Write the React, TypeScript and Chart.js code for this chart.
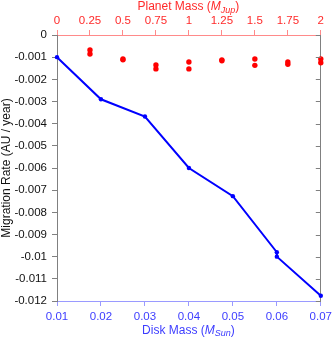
import React, { useEffect, useRef } from "react";
import { Chart, registerables } from "chart.js";

Chart.register(...registerables);

// ---- data ----
const diskMass = [0.01, 0.02, 0.03, 0.04, 0.05, 0.06, 0.06, 0.07];
const diskMigrationRate = [-0.001, -0.0029, -0.00368, -0.006, -0.00727, -0.0098, -0.01, -0.01176];

const planetMass = [0.25, 0.25, 0.5, 0.5, 0.75, 0.75, 1, 1, 1.25, 1.25, 1.5, 1.5, 1.75, 1.75, 2, 2];
const planetMigrationRate = [
  -0.00068, -0.00086, -0.00108, -0.00112, -0.00135, -0.00153, -0.00122, -0.00153,
  -0.00112, -0.00116, -0.00108, -0.00137, -0.00122, -0.00132, -0.00108, -0.00125,
];

const diskMassTicks = [0.01, 0.02, 0.03, 0.04, 0.05, 0.06, 0.07];
const planetMassTicks = [0, 0.25, 0.5, 0.75, 1, 1.25, 1.5, 1.75, 2];
const rateTicks = [0, -0.001, -0.002, -0.003, -0.004, -0.005, -0.006, -0.007, -0.008, -0.009, -0.01, -0.011, -0.012];

const FONT = "'Liberation Sans', Arial, Helvetica, sans-serif";

type Seg = { text: string; italic?: boolean; sub?: boolean };

function drawRich(ctx: CanvasRenderingContext2D, segs: Seg[], cx: number, cy: number, color: string, rotate: boolean) {
  const size = 12;
  const subSize = 9;
  const fontFor = (s: Seg) => `${s.italic ? "italic " : ""}${s.sub ? subSize : size}px ${FONT}`;
  let total = 0;
  const widths = segs.map((s) => {
    ctx.font = fontFor(s);
    const w = ctx.measureText(s.text).width;
    total += w;
    return w;
  });
  ctx.save();
  ctx.translate(cx, cy);
  if (rotate) ctx.rotate(-Math.PI / 2);
  ctx.fillStyle = color;
  ctx.textBaseline = "middle";
  ctx.textAlign = "left";
  let x = -total / 2;
  segs.forEach((s, i) => {
    ctx.font = fontFor(s);
    ctx.fillText(s.text, x, s.sub ? 3 : 0);
    x += widths[i];
  });
  ctx.restore();
}

const titlesPlugin = {
  id: "richTitles",
  afterDraw(chart: any) {
    const ctx = chart.ctx as CanvasRenderingContext2D;
    const a = chart.chartArea;
    const cx = (a.left + a.right) / 2;
    drawRich(ctx, [{ text: "Disk Mass (" }, { text: "M", italic: true }, { text: "Sun", italic: true, sub: true }, { text: ")" }], cx - 0.5, 330.5, "#3d3dff", false);
    drawRich(ctx, [{ text: "Planet Mass (" }, { text: "M", italic: true }, { text: "Jup", italic: true, sub: true }, { text: ")" }], cx - 0.5, 7, "#ff2a2a", false);
    drawRich(ctx, [{ text: "Migration Rate (AU / year)" }], 7, (a.top + a.bottom) / 2, "#111", true);

    // inward ticks on right axis
    const y = chart.scales.y;
    ctx.save();
    ctx.strokeStyle = "#808080";
    ctx.lineWidth = 1;
    rateTicks.forEach((v) => {
      const py = Math.round(y.getPixelForValue(v)) + 0.5;
      ctx.beginPath();
      ctx.moveTo(a.right - 5, py);
      ctx.lineTo(a.right, py);
      ctx.stroke();
    });
    ctx.restore();
  },
};

export default function App() {
  const ref = useRef<HTMLCanvasElement | null>(null);
  useEffect(() => {
    document.body.style.margin = "0";
    const canvas = ref.current!;
    const chart = new Chart(canvas, {
      type: "scatter",
      data: {
        datasets: [
          {
            label: "disk",
            data: diskMass.map((x, i) => ({ x, y: diskMigrationRate[i] })),
            xAxisID: "x",
            yAxisID: "y",
            showLine: true,
            borderColor: "#0000ff",
            backgroundColor: "#0000ff",
            borderWidth: 2,
            pointRadius: 2.2,
            pointBorderWidth: 0,
            clip: false as any,
          },
          {
            label: "planet",
            data: planetMass.map((x, i) => ({ x, y: planetMigrationRate[i] })),
            xAxisID: "x2",
            yAxisID: "y",
            showLine: false,
            borderColor: "#ff0000",
            backgroundColor: "#ff0000",
            pointRadius: 2.7,
            pointBorderWidth: 0,
            clip: false as any,
          },
        ],
      },
      options: {
        responsive: false,
        animation: false,
        layout: { padding: 0 },
        plugins: { legend: { display: false }, tooltip: { enabled: false }, title: { display: false } },
        scales: {
          x: {
            type: "linear",
            position: "bottom",
            min: 0.01,
            max: 0.07,
            afterBuildTicks: (s: any) => { s.ticks = diskMassTicks.map((value) => ({ value })); },
            afterFit: (s: any) => { s.height = 38; },
            ticks: {
              color: "#3d3dff",
              font: { family: FONT, size: 11.5 },
              padding: 4,
              maxRotation: 0,
              autoSkip: false,
              callback: (v: any) => Number(v).toFixed(2),
            },
            grid: { drawOnChartArea: false, tickLength: 5, color: "#9a9aff" },
            border: { color: "#9a9aff", width: 1 },
          },
          x2: {
            type: "linear",
            position: "top",
            min: 0,
            max: 2,
            afterBuildTicks: (s: any) => { s.ticks = planetMassTicks.map((value) => ({ value })); },
            afterFit: (s: any) => { s.height = 35; },
            ticks: {
              color: "#ff2a2a",
              font: { family: FONT, size: 11.5 },
              padding: 2,
              maxRotation: 0,
              autoSkip: false,
              callback: (v: any) => String(Number(Number(v).toFixed(2))),
            },
            grid: { drawOnChartArea: false, tickLength: 5, color: "#ff8a8a" },
            border: { color: "#ff8a8a", width: 1 },
          },
          y: {
            type: "linear",
            position: "left",
            min: -0.012,
            max: 0,
            afterBuildTicks: (s: any) => { s.ticks = rateTicks.map((value) => ({ value })); },
            afterFit: (s: any) => { s.width = 57; },
            ticks: {
              color: "#111",
              font: { family: FONT, size: 11.5 },
              padding: 5,
              autoSkip: false,
              callback: (v: any) => String(Number(Number(v).toFixed(3))),
            },
            grid: { drawOnChartArea: false, tickLength: 5, color: "#808080" },
            border: { color: "#808080", width: 1 },
          },
          y2: {
            type: "linear",
            position: "right",
            min: -0.012,
            max: 0,
            afterFit: (s: any) => { s.width = 13; },
            ticks: { display: false },
            grid: { drawOnChartArea: false, drawTicks: false },
            border: { color: "#808080", width: 1 },
          },
        },
      },
      plugins: [titlesPlugin],
    } as any);
    return () => chart.destroy();
  }, []);
  return <canvas ref={ref} width={336} height={339} style={{ display: "block", width: 336, height: 339 }} />;
}
